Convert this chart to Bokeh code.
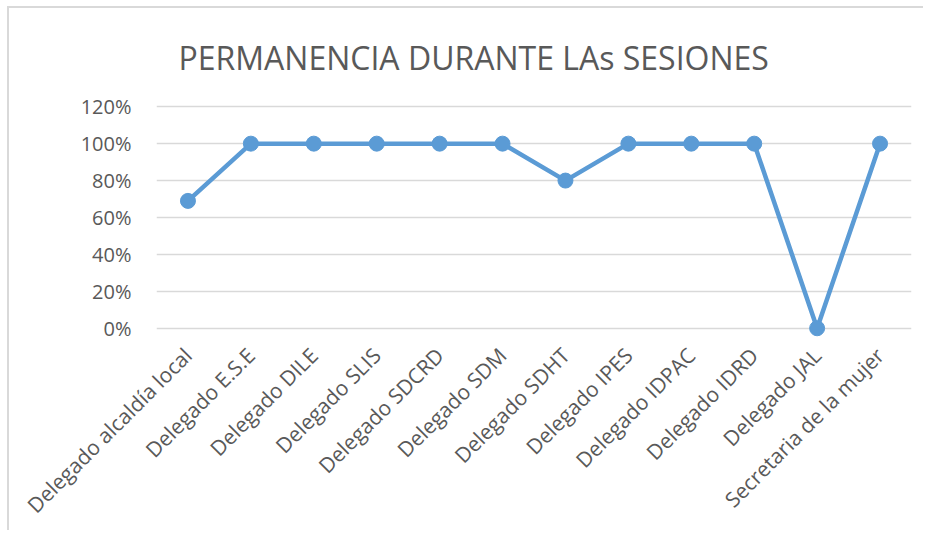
import math
from bokeh.plotting import figure
from bokeh.models import Range1d, FactorRange, NumeralTickFormatter, FixedTicker, ColumnDataSource
from bokeh.embed import file_html
from bokeh.resources import INLINE

categories = [
    "Delegado alcaldía local",
    "Delegado E.S.E",
    "Delegado DILE",
    "Delegado SLIS",
    "Delegado SDCRD",
    "Delegado SDM",
    "Delegado SDHT",
    "Delegado IPES",
    "Delegado IDPAC",
    "Delegado IDRD",
    "Delegado JAL",
    "Secretaria de la mujer",
]
values = [0.69, 1.0, 1.0, 1.0, 1.0, 1.0, 0.8, 1.0, 1.0, 1.0, 0.0, 1.0]
y_ticks = [0.0, 0.2, 0.4, 0.6, 0.8, 1.0, 1.2]
title_text = "PERMANENCIA DURANTE LAs SESIONES"

TEXT = "#595959"
BLUE = "#5B9BD5"
FONT = "Open Sans"

src = ColumnDataSource(data=dict(cat=categories, val=values))

p = figure(
    x_range=FactorRange(*categories),
    y_range=Range1d(-0.05, 1.25),
    width=916, height=524,
    output_backend="svg", toolbar_location=None,
    min_border_left=147, min_border_right=14,
    min_border_top=89, min_border_bottom=195,
    title=title_text,
)
p.styles = {
    "border-top": "2px solid #d9d9d9",
    "border-left": "2px solid #d9d9d9",
    "margin-left": "7px",
    "margin-top": "6px",
}
p.outline_line_color = None
p.background_fill_color = "white"
p.border_fill_color = "white"

p.title.text_font = FONT
p.title.text_font_size = "32px"
p.title.text_font_style = "normal"
p.title.text_color = TEXT
p.title.align = "left"
p.title.offset = 22
p.title.standoff = 38

p.yaxis.ticker = FixedTicker(ticks=y_ticks)
p.yaxis.formatter = NumeralTickFormatter(format="0%")
p.yaxis.axis_line_color = None
p.yaxis.major_tick_line_color = None
p.yaxis.minor_tick_line_color = None
p.yaxis.major_label_text_font = FONT
p.yaxis.major_label_text_font_size = "20px"
p.yaxis.major_label_text_color = TEXT
p.yaxis.major_label_standoff = 19

p.xaxis.axis_line_color = None
p.xaxis.major_tick_line_color = None
p.xaxis.minor_tick_line_color = None
p.xaxis.major_label_orientation = math.pi / 4
p.xaxis.major_label_text_font = FONT
p.xaxis.major_label_text_font_size = "21px"
p.xaxis.major_label_text_color = TEXT
p.xaxis.major_label_standoff = 8

p.xgrid.grid_line_color = None
p.ygrid.grid_line_color = "#d9d9d9"
p.ygrid.grid_line_width = 1.5

p.line(x="cat", y="val", source=src, line_color=BLUE, line_width=4.5)
p.scatter(x="cat", y="val", source=src, size=15, fill_color=BLUE, line_color=BLUE)

open("out.html", "w").write(file_html(p, INLINE))
